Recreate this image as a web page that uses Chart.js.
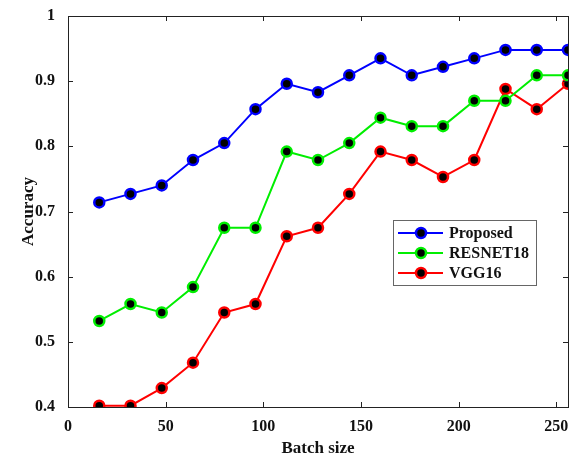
<!DOCTYPE html>
<html>
<head>
<meta charset="utf-8">
<script src="https://cdn.jsdelivr.net/npm/chart.js@4.4.0/dist/chart.umd.min.js"></script>
<style>
  html, body { margin: 0; padding: 0; background: #fff; }
  #wrap { width: 576px; height: 460px; }
</style>
</head>
<body>
<div id="wrap"><canvas id="chart" width="576" height="460"></canvas></div>
<script>
const batchSizes = [16, 32, 48, 64, 80, 96, 112, 128, 144, 160, 176, 192, 208, 224, 240, 256];
const proposed = [0.714, 0.727, 0.740, 0.779, 0.805, 0.857, 0.896, 0.883, 0.909, 0.935, 0.909, 0.922, 0.935, 0.948, 0.948, 0.948];
const resnet18 = [0.532, 0.558, 0.545, 0.584, 0.675, 0.675, 0.792, 0.779, 0.805, 0.844, 0.831, 0.831, 0.870, 0.870, 0.909, 0.909];
const vgg16 = [0.402, 0.402, 0.429, 0.468, 0.545, 0.558, 0.662, 0.675, 0.727, 0.792, 0.779, 0.753, 0.779, 0.888, 0.857, 0.896];
const xTicks = [0, 50, 100, 150, 200, 250];
const yTicks = [0.4, 0.5, 0.6, 0.7, 0.8, 0.9, 1];

const FONT = "'Liberation Serif', 'Times New Roman', serif";

function series(label, values, color) {
  return {
    label: label,
    data: values.map((v, i) => ({ x: batchSizes[i], y: v })),
    borderColor: color,
    borderWidth: 2,
    pointRadius: 5,
    pointBorderWidth: 2.5,
    pointBorderColor: color,
    pointBackgroundColor: "#000",
    tension: 0,
    fill: false,
  };
}

// box around the plot with inward ticks on every side
const frame = {
  id: "frame",
  afterDraw(chart) {
    const { ctx, chartArea: a, scales } = chart;
    ctx.save();
    ctx.strokeStyle = "#222";
    ctx.lineWidth = 1;
    ctx.strokeRect(a.left + 0.5, a.top + 0.5, a.right - a.left, a.bottom - a.top);
    ctx.beginPath();
    xTicks.forEach((t) => {
      const px = Math.round(scales.x.getPixelForValue(t)) + 0.5;
      ctx.moveTo(px, a.bottom); ctx.lineTo(px, a.bottom - 5);
      ctx.moveTo(px, a.top); ctx.lineTo(px, a.top + 5);
    });
    yTicks.forEach((t) => {
      const py = Math.round(scales.y.getPixelForValue(t)) + 0.5;
      ctx.moveTo(a.left, py); ctx.lineTo(a.left + 5, py);
      ctx.moveTo(a.right, py); ctx.lineTo(a.right - 5, py);
    });
    ctx.stroke();

    // legend inside the plot
    const lx = 393, ly = 220, lw = 143, lh = 65;
    ctx.fillStyle = "#fff";
    ctx.fillRect(lx, ly, lw, lh);
    ctx.strokeStyle = "#666";
    ctx.strokeRect(lx + 0.5, ly + 0.5, lw, lh);
    ctx.font = "bold 16px " + FONT;
    ctx.textBaseline = "middle";
    chart.data.datasets.forEach((ds, i) => {
      const y = ly + 13 + i * 20;
      ctx.strokeStyle = ds.borderColor;
      ctx.lineWidth = 2;
      ctx.beginPath();
      ctx.moveTo(lx + 5, y); ctx.lineTo(lx + 50, y);
      ctx.stroke();
      ctx.beginPath();
      ctx.arc(lx + 28, y, 5, 0, Math.PI * 2);
      ctx.fillStyle = "#000";
      ctx.fill();
      ctx.lineWidth = 2.5;
      ctx.stroke();
      ctx.fillStyle = "#111";
      ctx.fillText(ds.label, lx + 56, y + 1);
    });
    ctx.restore();
  },
};

new Chart(document.getElementById("chart"), {
  type: "line",
  data: {
    datasets: [
      series("Proposed", proposed, "#0000ff"),
      series("RESNET18", resnet18, "#00ee00"),
      series("VGG16", vgg16, "#ff0000"),
    ],
  },
  options: {
    responsive: false,
    animation: false,
    layout: { padding: { top: 16, right: 8, left: 0, bottom: 0 } },
    plugins: { legend: { display: false }, tooltip: { enabled: false } },
    scales: {
      x: {
        type: "linear",
        min: 0,
        max: 256,
        afterBuildTicks: (s) => { s.ticks = xTicks.map((v) => ({ value: v })); },
        afterFit: (s) => { s.height = 53; },
        grid: { display: false },
        border: { display: false },
        ticks: { color: "#111", font: { family: FONT, size: 16, weight: "bold" }, padding: 2, maxRotation: 0 },
        title: { display: true, text: "Batch size", color: "#111", font: { family: FONT, size: 17, weight: "bold" }, padding: { top: 0, bottom: 1 } },
      },
      y: {
        min: 0.4,
        max: 1,
        afterBuildTicks: (s) => { s.ticks = yTicks.map((v) => ({ value: v })); },
        afterFit: (s) => { s.width = 68; },
        grid: { display: false },
        border: { display: false },
        ticks: { color: "#111", font: { family: FONT, size: 16, weight: "bold" }, padding: 5, callback: (v) => String(v) },
        title: { display: true, text: "Accuracy", color: "#111", font: { family: FONT, size: 17, weight: "bold" }, padding: { top: 18, bottom: 0 } },
      },
    },
  },
  plugins: [frame],
});
</script>
</body>
</html>
